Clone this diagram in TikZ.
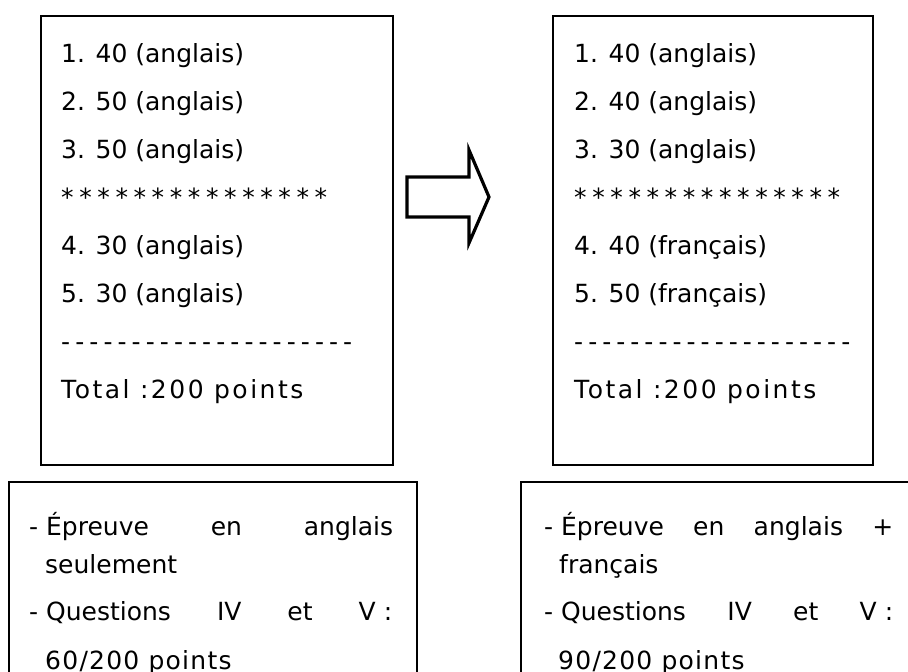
\documentclass[tikz,border=0pt]{standalone}
\usepackage{fontspec}
\setmainfont{DejaVu Sans}
\usetikzlibrary{positioning}
\newcommand{\spreadrow}[3]{\makebox[#1][s]{#3\foreach \k in {2,...,#2}{\hfill#3}}}

\begin{document}
\begin{tikzpicture}[x=1pt,y=-1pt,
      box/.style={draw, line width=1.6pt, inner sep=0pt},
      line/.style={anchor=base west, inner sep=0pt,
        font=\fontsize{25pt}{30pt}\selectfont},
      wideline/.style={line,
        font=\fontsize{25pt}{30pt}\selectfont\addfontfeature{LetterSpace=#1}},
      nextline/.style={below=48pt of #1.base west, anchor=base west}]

    \useasboundingbox (0,0) rectangle (908,672);
    \clip (0,0) rectangle (908,672);

    % score boxes
    \node[box, minimum width=352pt, minimum height=449pt, anchor=north west]
      (OldScore) at (40,15) {};
    \node[box, minimum width=320pt, minimum height=449pt, anchor=north west]
      (NewScore) at (552,15) {};

    % note boxes, cut off at the bottom
    \node[box, minimum width=408pt, minimum height=230pt, anchor=north west]
      (OldNote) at (8,481) {};
    \node[box, minimum width=420pt, minimum height=230pt, anchor=north west]
      (NewNote) at (520,481) {};

    % block arrow
    \draw[line width=3.2pt, line join=miter]
      (407,177) -- (469,177) -- (469,150) -- (489,197)
      -- (469,243) -- (469,217) -- (407,217) -- cycle;

    % old scoring
    \node[line]
      (OldQ1) at (61,62) {1. 40 (anglais)};
    \node[line]
      (OldQ2) [nextline=OldQ1] {2. 50 (anglais)};
    \node[line]
      (OldQ3) [nextline=OldQ2] {3. 50 (anglais)};
    \node[line]
      (OldStars) [nextline=OldQ3] {\spreadrow{266pt}{15}{*}};
    \node[line]
      (OldQ4) [nextline=OldStars] {4. 30 (anglais)};
    \node[line]
      (OldQ5) [nextline=OldQ4] {5. 30 (anglais)};
    \node[line]
      (OldDashes) [nextline=OldQ5] {\spreadrow{291pt}{21}{-}};
    \node[wideline=10]
      (OldTotal) [nextline=OldDashes] {Total :200 points};

    % new scoring
    \node[line]
      (NewQ1) at (574,62) {1. 40 (anglais)};
    \node[line]
      (NewQ2) [nextline=NewQ1] {2. 40 (anglais)};
    \node[line]
      (NewQ3) [nextline=NewQ2] {3. 30 (anglais)};
    \node[line]
      (NewStars) [nextline=NewQ3] {\spreadrow{266pt}{15}{*}};
    \node[line]
      (NewQ4) [nextline=NewStars] {4. 40 (français)};
    \node[line]
      (NewQ5) [nextline=NewQ4] {5. 50 (français)};
    \node[line]
      (NewDashes) [nextline=NewQ5] {\spreadrow{276pt}{20}{-}};
    \node[wideline=10]
      (NewTotal) [nextline=NewDashes] {Total :200 points};

    % notes
    \node[line]
      (OldNote1) at (29,535) {\makebox[364pt][s]{\mbox{- Épreuve} en anglais}};
    \node[line]
      (OldNote2) at (45,573) {seulement};
    \node[line]
      (OldNote3) at (29,620) {\makebox[363pt][s]{\mbox{- Questions} IV et \mbox{V :}}};
    \node[wideline=5]
      (OldNote4) at (45,669) {60/200 points};

    \node[line]
      (NewNote1) at (544,535) {\makebox[349pt][s]{\mbox{- Épreuve} en anglais +}};
    \node[line]
      (NewNote2) at (559,573) {français};
    \node[line]
      (NewNote3) at (544,620) {\makebox[349pt][s]{\mbox{- Questions} IV et \mbox{V :}}};
    \node[wideline=5]
      (NewNote4) at (558,669) {90/200 points};

  \end{tikzpicture}
\end{document}
